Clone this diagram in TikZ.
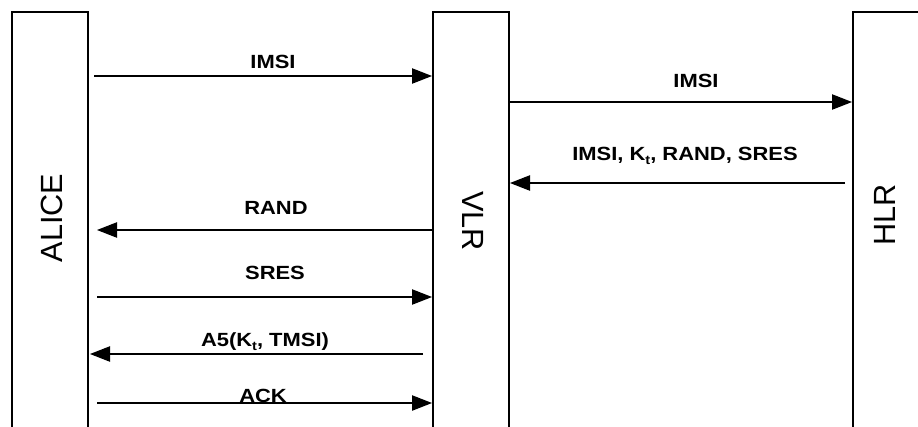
\documentclass[tikz,border=0pt]{standalone}
\usepackage{fontspec}
\setmainfont{Liberation Sans}
\newfontfamily\msgfont[FakeStretch=1.15]{Liberation Sans}
\usetikzlibrary{arrows.meta,calc}
\newcommand{\lowsub}[1]{\raisebox{-3pt}{\fontsize{9.5}{9.5}\selectfont #1}}
\tikzset{
  barBox/.style={draw, line width=1.5pt, minimum width=57pt, minimum height=330pt, inner sep=0pt},
  barLabel/.style={font=\fontsize{23}{23}\selectfont, inner sep=0pt},
  msgArrow/.style={-{Triangle[length=15pt, width=11.5pt]}, line width=0.9pt},
  msgLabel/.style={font=\msgfont\bfseries\fontsize{14.3}{14.3}\selectfont, anchor=base, inner sep=0pt}
}
\begin{document}
\begin{tikzpicture}[x=0.75pt, y=-0.75pt]
  \useasboundingbox (0,0) rectangle (918,426);
  \clip (0,0) rectangle (918,426);

  % the three parties
  \node[barBox] (alice) at (50,232) {};
  \node[barBox] (vlr) at (471,232) {};
  \node[barBox] (hlr) at (891,232) {};
  \node[barLabel, rotate=90] (aliceText) at (52,218) {ALICE};
  \node[barLabel, rotate=-90] (vlrText) at (473,221) {VLR};
  \node[barLabel, rotate=90] (hlrText) at (885,215) {HLR};

  % message levels
  \coordinate (m1) at (0,76);
  \coordinate (m2) at (0,102);
  \coordinate (m3) at (0,183);
  \coordinate (m4) at (0,230);
  \coordinate (m5) at (0,297);
  \coordinate (m6) at (0,354);
  \coordinate (m7) at (0,403);

  \draw[msgArrow] ($(alice.east |- m1)+(5,0)$) -- (vlr.west |- m1);
  \draw[msgArrow] (vlr.east |- m2) -- (hlr.west |- m2);
  \draw[msgArrow] ($(hlr.west |- m3)+(-7,0)$) -- (vlr.east |- m3);
  \draw[msgArrow] (vlr.west |- m4) -- ($(alice.east |- m4)+(8,0)$);
  \draw[msgArrow] ($(alice.east |- m5)+(8,0)$) -- (vlr.west |- m5);
  \draw[msgArrow] ($(vlr.west |- m6)+(-9,0)$) -- ($(alice.east |- m6)+(1,0)$);
  \draw[msgArrow] ($(alice.east |- m7)+(8,0)$) -- (vlr.west |- m7);

  \node[msgLabel] (l1) at (273,68) {IMSI};
  \node[msgLabel] (l2) at (696,87) {IMSI};
  \node[msgLabel] (l3) at (685,160) {IMSI, K\lowsub{t}, RAND, SRES};
  \node[msgLabel] (l4) at (276,214) {RAND};
  \node[msgLabel] (l5) at (275,279) {SRES};
  \node[msgLabel] (l6) at (265,346) {A5(K\lowsub{t}, TMSI)};
  \node[msgLabel] (l7) at (263,402) {ACK};
\end{tikzpicture}
\end{document}
